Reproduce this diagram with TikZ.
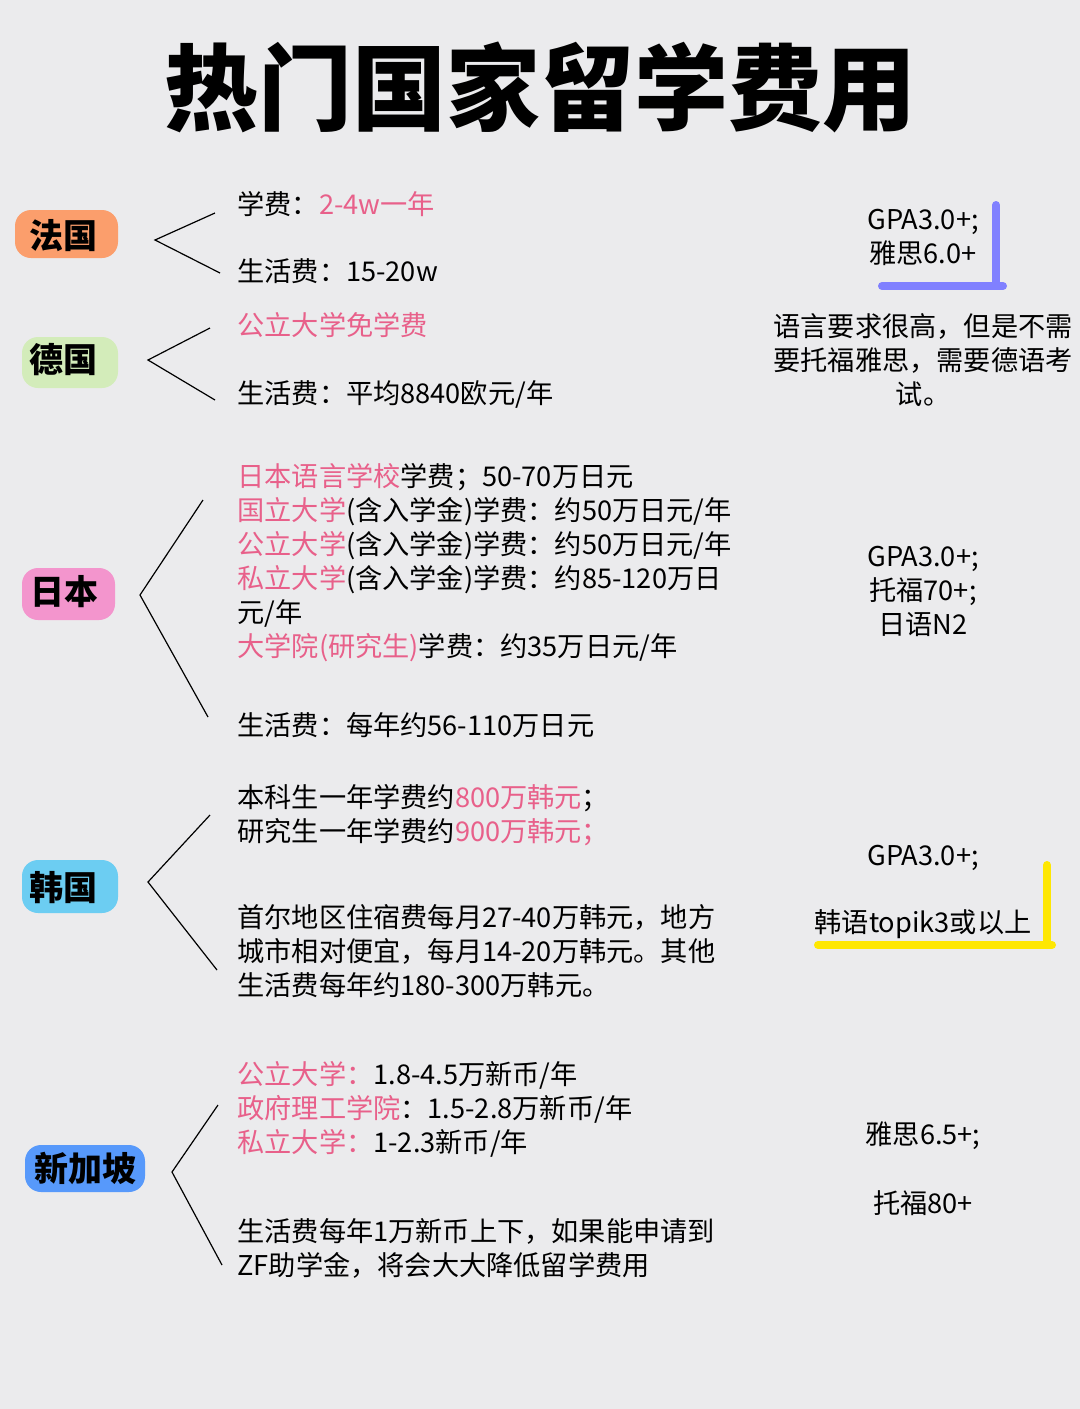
\documentclass[tikz,border=0pt]{standalone}
\usepackage{fontspec}
\setmainfont{Noto Sans CJK SC}
\definecolor{bg}{HTML}{EBEBED}
\definecolor{pk}{HTML}{E8608A}
\begin{document}
\begin{tikzpicture}[x=0.5pt,y=-0.5pt,
  body/.style={anchor=west,font=\fontsize{13.6}{17}\selectfont,align=left,inner sep=0},
  rt/.style={font=\fontsize{13.6}{17}\selectfont,align=center,inner sep=0},
  cty/.style={font=\fontsize{17}{20}\selectfont\bfseries,inner sep=0},
  br/.style={line width=0.6pt,black}]
\fill[bg] (0,0) rectangle (1080,1409);
\useasboundingbox (0,0) rectangle (1080,1409);
\node[font=\fontsize{47}{50}\selectfont\bfseries] (title) at (540,87) {热门国家留学费用};
% country labels
\fill[orange!70!red!70,opacity=.8,rounded corners=8pt] (15,210) rectangle (118,258);
\node[cty] (fr) at (63,236) {法国};
\fill[yellow!40!green!30,opacity=.9,rounded corners=8pt] (22,337) rectangle (118,388);
\node[cty] (de) at (63,360) {德国};
\fill[magenta!50,opacity=.8,rounded corners=8pt] (22,568) rectangle (115,620);
\node[cty] (jp) at (65,592) {日本};
\fill[cyan!70,opacity=.8,rounded corners=8pt] (22,860) rectangle (118,913);
\node[cty] (kr) at (63,888) {韩国};
\fill[blue!60!cyan!80,opacity=.8,rounded corners=8pt] (25,1145) rectangle (145,1192);
\node[cty] (sg) at (85,1168) {新加坡};
% branches
\coordinate (f0) at (155,240); \coordinate (f1) at (215,213); \coordinate (f2) at (220,273);
\draw[br] (f1)--(f0)--(f2);
\coordinate (d0) at (148,360); \coordinate (d1) at (210,328); \coordinate (d2) at (215,400);
\draw[br] (d1)--(d0)--(d2);
\coordinate (j0) at (140,595); \coordinate (j1) at (203,500); \coordinate (j2) at (208,717);
\draw[br] (j1)--(j0)--(j2);
\coordinate (k0) at (148,882); \coordinate (k1) at (210,815); \coordinate (k2) at (217,970);
\draw[br] (k1)--(k0)--(k2);
\coordinate (s0) at (172,1172); \coordinate (s1) at (218,1105); \coordinate (s2) at (222,1265);
\draw[br] (s1)--(s0)--(s2);
% texts
\node[body] (t1) at (237,204) {学费：\textcolor{pk}{2-4w一年}};
\node[body] (t2) at (237,271) {生活费：15-20w};
\node[body] (t3) at (237,325) {\textcolor{pk}{公立大学免学费}};
\node[body] (t4) at (237,394) {生活费：平均8840欧元/年};
\node[body,anchor=north west] (t5) at (237,463) {\textcolor{pk}{日本语言学校}学费；50-70万日元\\
\textcolor{pk}{国立大学}(含入学金)学费：约50万日元/年\\
\textcolor{pk}{公立大学}(含入学金)学费：约50万日元/年\\
\textcolor{pk}{私立大学}(含入学金)学费：约85-120万日\\
元/年\\
\textcolor{pk}{大学院(研究生)}学费：约35万日元/年};
\node[body] (t6) at (237,725) {生活费：每年约56-110万日元};
\node[body,anchor=north west] (t7) at (237,784) {本科生一年学费约\textcolor{pk}{800万韩元}；\\研究生一年学费约\textcolor{pk}{900万韩元；}};
\node[body,anchor=north west] (t8) at (237,904) {首尔地区住宿费每月27-40万韩元，地方\\城市相对便宜，每月14-20万韩元。其他\\生活费每年约180-300万韩元。};
\node[body,anchor=north west] (t9) at (237,1061) {\textcolor{pk}{公立大学：}1.8-4.5万新币/年\\\textcolor{pk}{政府理工学院}：1.5-2.8万新币/年\\\textcolor{pk}{私立大学：}1-2.3新币/年};
\node[body,anchor=north west] (t10) at (237,1218) {生活费每年1万新币上下，如果能申请到\\ZF助学金，将会大大降低留学费用};
% right column
\draw[line width=4pt,blue!50!white,line cap=round] (996,205)--(996,285) (882,286)--(1003,286);
\node[rt] (r1) at (923,237) {GPA3.0+;\\雅思6.0+};
\node[rt] (r2) at (923,360) {语言要求很高，但是不需\\要托福雅思，需要德语考\\试。};
\node[rt] (r3) at (923,591) {GPA3.0+;\\托福70+;\\日语N2};
\draw[line width=4pt,yellow!90!orange,line cap=round] (1047,865)--(1047,945) (818,945)--(1052,945);
\node[rt] (r4) at (923,858) {GPA3.0+;};
\node[rt] (r5) at (923,924) {韩语topik3或以上};
\node[rt] (r6) at (923,1136) {雅思6.5+;};
\node[rt] (r7) at (923,1203) {托福80+};
\end{tikzpicture}
\end{document}
